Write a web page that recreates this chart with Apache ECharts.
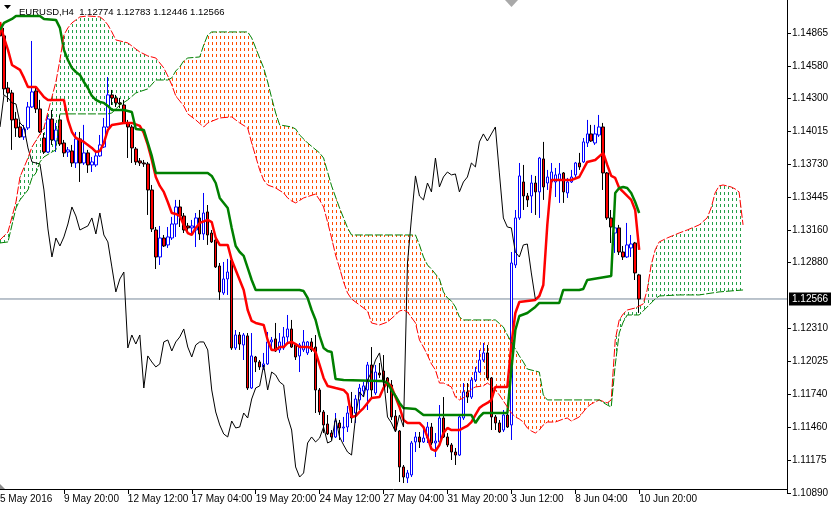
<!DOCTYPE html>
<html><head><meta charset="utf-8">
<script src="https://cdn.jsdelivr.net/npm/echarts@6.0.0/dist/echarts.min.js"></script>
<style>html,body{margin:0;padding:0;background:#fff}#c{width:831px;height:510px}</style>
</head><body><div id="c"></div>
<script>
// ---- data (EURUSD H4) ----
const opens = [1.14908,1.14839,1.14389,1.14346,1.14121,1.14052,1.13966,1.14044,1.14225,1.14363,
1.14208,1.13957,1.13836,1.14121,1.13931,1.14113,1.13914,1.13836,1.13845,1.13741,
1.13949,1.13741,1.13828,1.13724,1.13724,1.13802,1.13879,1.14052,1.14329,1.14303,
1.14260,1.14242,1.14087,1.14052,1.13862,1.13759,1.13741,1.13733,1.13508,1.13162,
1.12929,1.13093,1.13033,1.13093,1.13214,1.13361,1.13283,1.13197,1.13180,1.13162,
1.13266,1.13128,1.13318,1.13136,1.13076,1.12851,1.12618,1.12739,1.12903,1.12143,
1.12255,1.12169,1.12247,1.11797,1.12065,1.12022,1.11979,1.12005,1.12195,1.12221,
1.12126,1.12143,1.12238,1.12307,1.12169,1.12074,1.12126,1.12100,1.12195,1.12151,
1.11780,1.11590,1.11486,1.11408,1.11374,1.11495,1.11452,1.11460,1.11633,1.11581,
1.11694,1.11771,1.11780,1.11996,1.11754,1.11927,1.11944,1.11884,1.11823,1.11555,
1.11426,1.11115,1.11020,1.11046,1.11331,1.11374,1.11331,1.11365,1.11460,1.11322,
1.11331,1.11538,1.11374,1.11305,1.11244,1.11218,1.11538,1.11763,1.11719,1.11866,
1.11935,1.12039,1.12100,1.11884,1.11547,1.11495,1.11434,1.11564,1.11478,1.12860,
1.13266,1.13577,1.13456,1.13456,1.13568,1.13491,1.13776,1.13568,1.13577,1.13577,
1.13594,1.13655,1.13482,1.13577,1.13638,1.13741,1.13750,1.13914,1.13992,1.13914,
1.13983,1.14052,1.13655,1.13266,1.13136,1.13180,1.12972,1.12929,1.13007,1.13050,
1.12774];
const highs = [1.14959,1.14908,1.14441,1.14372,1.14182,1.14095,1.14070,1.14268,1.14795,1.14398,
1.14286,1.14000,1.14156,1.14199,1.14087,1.14156,1.13940,1.13879,1.13897,1.14009,
1.14009,1.14070,1.13854,1.13793,1.13836,1.13983,1.14130,1.14484,1.14372,1.14329,
1.14303,1.14286,1.14113,1.14070,1.13879,1.13784,1.13767,1.13750,1.13551,1.13188,
1.13197,1.13119,1.13188,1.13275,1.13422,1.13422,1.13309,1.13223,1.13249,1.13309,
1.13335,1.13482,1.13378,1.13162,1.13093,1.12877,1.12886,1.12912,1.12929,1.12298,
1.12281,1.12272,1.12272,1.12272,1.12074,1.12039,1.12100,1.12281,1.12238,1.12359,
1.12272,1.12324,1.12428,1.12385,1.12186,1.12186,1.12298,1.12203,1.12229,1.12255,
1.11797,1.11607,1.11564,1.11434,1.11581,1.11521,1.11547,1.11642,1.11763,1.11737,
1.11832,1.11849,1.12022,1.12151,1.11996,1.12013,1.12082,1.11892,1.11866,1.11607,
1.11434,1.11132,1.11089,1.11339,1.11417,1.11417,1.11460,1.11503,1.11495,1.11408,
1.11650,1.11719,1.11408,1.11322,1.11279,1.11564,1.11840,1.11840,1.11892,1.11979,
1.12126,1.12186,1.12169,1.11892,1.11564,1.11521,1.11607,1.11633,1.12972,1.13335,
1.13741,1.13724,1.13482,1.13638,1.13629,1.13793,1.13923,1.13681,1.13741,1.13698,
1.13741,1.13663,1.13612,1.13681,1.13750,1.13828,1.13957,1.14113,1.14070,1.14070,
1.14156,1.14087,1.13663,1.13335,1.13223,1.13206,1.13024,1.13223,1.13119,1.13059,
1.12783];
const lows = [1.14804,1.14329,1.14268,1.13854,1.13966,1.13957,1.13940,1.14026,1.14216,1.14173,
1.14000,1.13819,1.13828,1.13897,1.13836,1.13888,1.13793,1.13793,1.13707,1.13698,
1.13577,1.13724,1.13655,1.13663,1.13707,1.13793,1.13871,1.14044,1.14242,1.14225,
1.14216,1.14078,1.13784,1.13741,1.13724,1.13715,1.13707,1.13292,1.13145,1.12825,
1.12860,1.13015,1.13007,1.13076,1.13102,1.13188,1.13136,1.13145,1.13119,1.13015,
1.13076,1.13076,1.13033,1.13050,1.12834,1.12558,1.12601,1.12601,1.12126,1.12126,
1.12126,1.12039,1.11780,1.11789,1.11935,1.11953,1.11953,1.11996,1.12126,1.12108,
1.12100,1.12126,1.12186,1.12143,1.12039,1.11935,1.12108,1.12082,1.12108,1.11581,
1.11564,1.11408,1.11391,1.11348,1.11365,1.11348,1.11331,1.11417,1.11495,1.11495,
1.11607,1.11719,1.11607,1.11719,1.11737,1.11884,1.11806,1.11754,1.11521,1.11417,
1.10985,1.10976,1.10976,1.11028,1.11244,1.11279,1.11322,1.11322,1.11305,1.11201,
1.11322,1.11365,1.11287,1.11175,1.11132,1.11210,1.11521,1.11668,1.11702,1.11849,
1.11927,1.12022,1.11866,1.11434,1.11434,1.11408,1.11417,1.11452,1.11348,1.12834,
1.13249,1.13335,1.13361,1.13309,1.13292,1.13266,1.13422,1.13508,1.13525,1.13447,
1.13396,1.13396,1.13439,1.13568,1.13620,1.13681,1.13741,1.13879,1.13923,1.13897,
1.13966,1.13508,1.13249,1.13050,1.12964,1.12946,1.12903,1.12920,1.12929,1.12730,
1.12446];
const closes = [1.14839,1.14381,1.14346,1.14113,1.14044,1.13966,1.14035,1.14225,1.14355,1.14208,
1.14009,1.13836,1.14121,1.13940,1.14026,1.13905,1.13828,1.13854,1.13741,1.13949,
1.13741,1.13828,1.13724,1.13750,1.13802,1.13897,1.14052,1.14329,1.14303,1.14260,
1.14251,1.14087,1.14052,1.13871,1.13750,1.13741,1.13733,1.13508,1.13171,1.12929,
1.13093,1.13024,1.13102,1.13214,1.13361,1.13283,1.13162,1.13180,1.13197,1.13266,
1.13128,1.13309,1.13119,1.13059,1.12843,1.12627,1.12739,1.12799,1.12143,1.12255,
1.12177,1.12255,1.11797,1.12074,1.12022,1.11979,1.12005,1.12195,1.12212,1.12117,
1.12195,1.12238,1.12307,1.12151,1.12065,1.12169,1.12195,1.12195,1.12126,1.11780,
1.11590,1.11478,1.11400,1.11374,1.11512,1.11452,1.11460,1.11581,1.11538,1.11702,
1.11797,1.11815,1.11996,1.11780,1.11935,1.11910,1.11849,1.11823,1.11547,1.11434,
1.11115,1.11028,1.11063,1.11322,1.11374,1.11331,1.11365,1.11460,1.11322,1.11339,
1.11538,1.11374,1.11305,1.11244,1.11218,1.11547,1.11763,1.11719,1.11866,1.11935,
1.12039,1.12100,1.11884,1.11547,1.11495,1.11417,1.11564,1.11460,1.12877,1.13266,
1.13629,1.13456,1.13422,1.13568,1.13491,1.13784,1.13534,1.13620,1.13663,1.13638,
1.13646,1.13491,1.13577,1.13620,1.13741,1.13707,1.13923,1.13992,1.13931,1.13992,
1.14052,1.13655,1.13266,1.13188,1.13180,1.12972,1.12929,1.13033,1.13041,1.12791,
1.12566];

// Ichimoku lines: [bar index, price]
const tenkan = [[0,1.14959],[1,1.14821],[2,1.14718],[3,1.14588],[5,1.14545],[6,1.14476],[7,1.14398],[9,1.14398],[10,1.14355],[11,1.14311],[12,1.14286],[16,1.14286],[17,1.14113],[18,1.14009],[19,1.13957],[21,1.13923],[22,1.13897],[23,1.13871],[24,1.13836],[25,1.13845],[26,1.13914],[27,1.14026],[28,1.14070],[31,1.14087],[33,1.14087],[35,1.14061],[36,1.14000],[37,1.13897],[38,1.13767],[39,1.13620],[40,1.13543],[41,1.13491],[42,1.13404],[43,1.13309],[44,1.13301],[45,1.13283],[46,1.13206],[47,1.13136],[48,1.13119],[49,1.13180],[50,1.13223],[52,1.13249],[53,1.13231],[54,1.13093],[55,1.13033],[57,1.13033],[58,1.12903],[59,1.12817],[60,1.12730],[61,1.12644],[62,1.12471],[63,1.12376],[64,1.12359],[66,1.12342],[67,1.12212],[68,1.12126],[69,1.12126],[70,1.12151],[71,1.12151],[72,1.12186],[73,1.12195],[74,1.12177],[75,1.12151],[77,1.12151],[78,1.12143],[79,1.12108],[80,1.11996],[81,1.11884],[82,1.11815],[84,1.11797],[85,1.11789],[86,1.11780],[87,1.11745],[88,1.11547],[89,1.11555],[90,1.11590],[91,1.11624],[92,1.11668],[93,1.11711],[95,1.11719],[96,1.11797],[97,1.11849],[98,1.11806],[99,1.11719],[100,1.11633],[101,1.11521],[102,1.11495],[105,1.11495],[106,1.11460],[107,1.11374],[108,1.11270],[109,1.11253],[110,1.11305],[111,1.11408],[112,1.11452],[113,1.11434],[115,1.11434],[116,1.11452],[117,1.11469],[118,1.11503],[119,1.11564],[120,1.11624],[121,1.11650],[122,1.11668],[123,1.11694],[124,1.11806],[127,1.11806],[128,1.12169],[129,1.12445],[130,1.12540],[134,1.12558],[135,1.12592],[136,1.12687],[137,1.13206],[138,1.13594],[143,1.13594],[145,1.13620],[147,1.13750],[149,1.13767],[151,1.13828],[152,1.13724],[153,1.13629],[154,1.13612],[155,1.13525],[156,1.13491],[157,1.13456],[158,1.13422],[159,1.13335],[160,1.12990]];
const kijun = [[0,1.14890],[1,1.14951],[3,1.14985],[4,1.15011],[10,1.15011],[11,1.14985],[14,1.14977],[15,1.14908],[16,1.14718],[17,1.14631],[18,1.14562],[19,1.14527],[20,1.14502],[21,1.14441],[22,1.14389],[23,1.14320],[24,1.14286],[25,1.14268],[26,1.14260],[27,1.14234],[28,1.14199],[31,1.14199],[33,1.14182],[34,1.14035],[36,1.14026],[37,1.13914],[38,1.13802],[39,1.13655],[52,1.13655],[53,1.13629],[54,1.13568],[55,1.13439],[56,1.13396],[57,1.13352],[58,1.13180],[59,1.13024],[60,1.12972],[61,1.12938],[62,1.12834],[63,1.12730],[64,1.12644],[75,1.12644],[76,1.12635],[77,1.12575],[78,1.12471],[79,1.12385],[80,1.12247],[81,1.12143],[82,1.12117],[83,1.12108],[84,1.11875],[86,1.11866],[95,1.11858],[96,1.11858],[97,1.11840],[98,1.11780],[99,1.11728],[100,1.11668],[101,1.11624],[104,1.11616],[105,1.11590],[106,1.11564],[118,1.11564],[119,1.11495],[120,1.11547],[121,1.11581],[127,1.11581],[128,1.11953],[129,1.12298],[130,1.12419],[132,1.12445],[134,1.12497],[135,1.12532],[140,1.12532],[141,1.12644],[145,1.12644],[146,1.12653],[147,1.12730],[150,1.12748],[153,1.12765],[154,1.13482],[155,1.13525],[156,1.13534],[157,1.13525],[158,1.13482],[159,1.13404],[160,1.13309]];
const spanA = [[0,1.13076],[2,1.13145],[4,1.13404],[5,1.13620],[7,1.13784],[8,1.13879],[11,1.14044],[12,1.14182],[14,1.14441],[15,1.14631],[16,1.14847],[17,1.14908],[18,1.14951],[19,1.14977],[20,1.15003],[22,1.15011],[25,1.15003],[26,1.14977],[27,1.14934],[28,1.14873],[29,1.14804],[32,1.14778],[35,1.14700],[37,1.14666],[39,1.14648],[41,1.14562],[42,1.14493],[43,1.14415],[44,1.14320],[45,1.14277],[46,1.14234],[47,1.14165],[49,1.14113],[51,1.14052],[52,1.14087],[55,1.14130],[58,1.14139],[60,1.14087],[62,1.14044],[63,1.13914],[65,1.13681],[66,1.13594],[67,1.13551],[69,1.13525],[71,1.13482],[72,1.13439],[73,1.13413],[74,1.13396],[76,1.13439],[79,1.13473],[80,1.13422],[81,1.13361],[82,1.13231],[83,1.13093],[84,1.12946],[85,1.12834],[86,1.12713],[87,1.12618],[88,1.12566],[90,1.12514],[92,1.12463],[93,1.12359],[95,1.12342],[97,1.12367],[99,1.12428],[100,1.12463],[101,1.12471],[102,1.12454],[104,1.12359],[105,1.12212],[106,1.12151],[107,1.12082],[108,1.12005],[109,1.11953],[110,1.11840],[111,1.11840],[113,1.11806],[114,1.11719],[115,1.11694],[116,1.11711],[118,1.11789],[119,1.11806],[121,1.11815],[122,1.11840],[123,1.11815],[124,1.11780],[125,1.11737],[126,1.11685],[127,1.11633],[128,1.11581],[129,1.11547],[130,1.11529],[131,1.11503],[132,1.11452],[133,1.11426],[134,1.11408],[135,1.11434],[136,1.11478],[137,1.11503],[139,1.11503],[141,1.11529],[142,1.11538],[143,1.11512],[145,1.11547],[147,1.11633],[148,1.11659],[150,1.11694],[152,1.11668],[153,1.11694],[154,1.12212],[155,1.12385],[156,1.12437],[157,1.12471],[159,1.12488],[161,1.12523],[162,1.12644],[163,1.12860],[164,1.12990],[165,1.13059],[167,1.13093],[170,1.13136],[172,1.13162],[175,1.13206],[177,1.13266],[178,1.13352],[179,1.13482],[180,1.13543],[181,1.13551],[183,1.13534],[184,1.13517],[185,1.13491],[186,1.13206]];
const spanB = [[0,1.13050],[2,1.13059],[3,1.13206],[4,1.13352],[5,1.13422],[7,1.13508],[8,1.13612],[9,1.13655],[10,1.13750],[11,1.13793],[13,1.13836],[14,1.13854],[15,1.14165],[27,1.14165],[28,1.14173],[30,1.14242],[32,1.14286],[34,1.14346],[37,1.14381],[39,1.14458],[42,1.14458],[43,1.14476],[44,1.14536],[45,1.14571],[46,1.14623],[47,1.14648],[50,1.14657],[51,1.14761],[52,1.14847],[53,1.14873],[62,1.14873],[63,1.14821],[64,1.14735],[65,1.14648],[66,1.14562],[67,1.14441],[68,1.14303],[69,1.14173],[70,1.14070],[73,1.14052],[74,1.14035],[75,1.13983],[77,1.13914],[80,1.13828],[81,1.13784],[82,1.13663],[83,1.13543],[84,1.13447],[85,1.13352],[86,1.13266],[87,1.13180],[88,1.13119],[104,1.13119],[105,1.13033],[106,1.12929],[107,1.12860],[108,1.12825],[109,1.12782],[110,1.12739],[111,1.12627],[112,1.12575],[113,1.12549],[114,1.12497],[115,1.12411],[116,1.12385],[124,1.12385],[126,1.12324],[127,1.12255],[128,1.12195],[129,1.12134],[130,1.12074],[131,1.12022],[132,1.11961],[135,1.11935],[136,1.11737],[137,1.11694],[150,1.11694],[152,1.11650],[153,1.11633],[154,1.11996],[155,1.12272],[156,1.12367],[157,1.12428],[160,1.12428],[162,1.12497],[163,1.12532],[164,1.12566],[165,1.12592],[170,1.12601],[175,1.12601],[180,1.12627],[186,1.12644]];
// cloud parts: [from bar, to bar, direction]
const cloudParts = [[0,42,'up'],[42,150,'down'],[150,186,'up']];

const yTickLabels = ['1.10890','1.11175','1.11460','1.11740','1.12025','1.12310','1.12880','1.13160','1.13445','1.13730','1.14015','1.14300','1.14580','1.14865'];
const xTickLabels = ['5 May 2016','9 May 20:00','12 May 12:00','17 May 04:00','19 May 20:00','24 May 12:00','27 May 04:00','31 May 20:00','3 Jun 12:00','8 Jun 04:00','10 Jun 20:00'];
const lastPrice = 1.12566;
const titleText = 'EURUSD,H4  1.12774 1.12783 1.12446 1.12566';
const CHIKOU_SHIFT = 26;
const TOTAL_SLOTS = 198;

// H4 bar times from 5 May 2016 04:00, weekends skipped
const MONTHS = ['Jan','Feb','Mar','Apr','May','Jun','Jul','Aug','Sep','Oct','Nov','Dec'];
const categories = [];
(function(){ let t = Date.UTC(2016,4,5,4); while (categories.length < TOTAL_SLOTS) { const d = new Date(t); const w = d.getUTCDay();
  if (w !== 0 && w !== 6) categories.push(d.getUTCDate()+' '+MONTHS[d.getUTCMonth()]+' '+String(d.getUTCHours()).padStart(2,'0')+':00');
  t += 4*3600e3; } })();

const candleData = opens.map((o,i)=>[o, closes[i], lows[i], highs[i]]);
const chikouData = closes.slice(CHIKOU_SHIFT).map((c,i)=>[i,c]);
const priceLine = [[0, lastPrice], [TOTAL_SLOTS - 1, lastPrice]];

function dotPattern(color){ const c=document.createElement('canvas'); c.width=4; c.height=6; const g=c.getContext('2d'); g.fillStyle=color; g.fillRect(0,0,1,3); return {image:c, repeat:'repeat'}; }
const upFill = dotPattern('#23a048');
const downFill = dotPattern('#ff4d00');

const FONT = 'Liberation Sans, Arial, sans-serif';
const chart = echarts.init(document.getElementById('c'), null, {renderer:'canvas'});
chart.setOption({
  animation:false,
  backgroundColor:'#ffffff',
  title:{text:titleText, left:14, top:2, textStyle:{fontSize:9.5, fontWeight:'normal', color:'#000', fontFamily:FONT}},
  graphic:[
    {type:'polygon', shape:{points:[[4,5],[11,5],[7.5,9]]}, style:{fill:'#000'}},
    {type:'polygon', shape:{points:[[505,0],[518,0],[511.5,7]]}, style:{fill:'#a9a9a9'}},
    {type:'polygon', shape:{points:[[0,484],[0,489],[5,489]]}, style:{fill:'#8c8c8c'}}
  ],
  grid:{left:0, right:44, top:0, bottom:17, containLabel:false, outerBoundsMode:'none'},
  xAxis:{type:'category', data:categories, boundaryGap:false, offset:-4,
    axisLine:{show:true, lineStyle:{color:'#000', width:1}},
    axisTick:{show:true, length:5, interval:(i)=> i>0 && i%16===0 && i<=160, lineStyle:{color:'#000'}},
    axisLabel:{show:true, interval:(i)=> i%16===0 && i<=160, align:'left', margin:5, color:'#000', fontSize:10, fontFamily:FONT,
      formatter:(v,i)=> xTickLabels[i/16] || ''},
    splitLine:{show:false}},
  yAxis:{type:'value', position:'right', min:1.10890, max:1.15149, scale:true,
    axisLine:{show:true, lineStyle:{color:'#000', width:1}},
    axisTick:{show:true, length:4, customValues:yTickLabels.map(Number), lineStyle:{color:'#000'}},
    axisLabel:{show:true, customValues:yTickLabels.map(Number), margin:5, color:'#000', fontSize:10, fontFamily:FONT,
      formatter:(v)=> v.toFixed(5)},
    splitLine:{show:false}},
  series:[
    {type:'line', name:'Price', data:priceLine, symbol:'none', clip:false, z:1,
      lineStyle:{color:'#778899', width:1},
      endLabel:{show:true, distance:2, formatter:()=>lastPrice.toFixed(5), color:'#fff', backgroundColor:'#000',
        padding:[2,3,1,3], fontSize:10, fontFamily:FONT}},
    {type:'candlestick', name:'EURUSD', data:candleData, barWidth:3,
      itemStyle:{color:'#ffffff', color0:'#ff0000', borderColor:'#0000ff', borderColor0:'#000000', borderWidth:1}},
    {type:'line', name:'Tenkan', data:tenkan, symbol:'none', lineStyle:{color:'#ff0000', width:2.5}},
    {type:'line', name:'Kijun', data:kijun, symbol:'none', lineStyle:{color:'#008000', width:2.5}},
    {type:'custom', name:'Kumo', data:cloudParts.map(p=>[p[0],p[1]]),
      renderItem:(params, api)=>{
        const part = cloudParts[params.dataIndex];
        const a = spanA.filter(p=>p[0]>=part[0] && p[0]<=part[1]).map(p=>api.coord(p));
        const b = spanB.filter(p=>p[0]>=part[0] && p[0]<=part[1]).reverse().map(p=>api.coord(p));
        return {type:'polygon', shape:{points:a.concat(b)}, style:{fill: part[2]==='up'?upFill:downFill}};
      }},
    {type:'line', name:'Chikou', data:chikouData, symbol:'none', lineStyle:{color:'#000000', width:1}},
    {type:'line', name:'Senkou A', data:spanA, symbol:'none', lineStyle:{color:'#ff0000', width:1, type:[8,2]}},
    {type:'line', name:'Senkou B', data:spanB, symbol:'none', lineStyle:{color:'#008000', width:1, type:[8,2]}}
  ]
});
</script></body></html>
